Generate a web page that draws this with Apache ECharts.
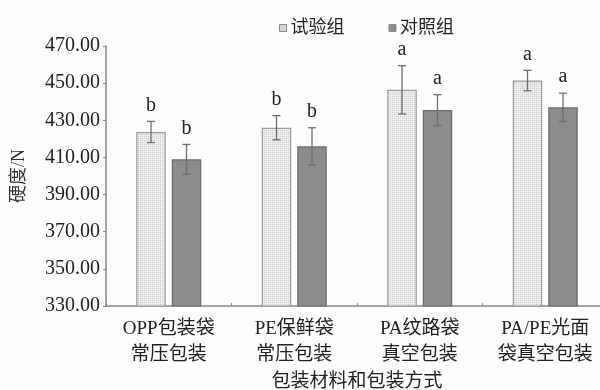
<!DOCTYPE html>
<html>
<head>
<meta charset="utf-8">
<script src="https://cdn.jsdelivr.net/npm/echarts@6/dist/echarts.min.js"></script>
<style>
  html, body { margin: 0; padding: 0; background: #fdfdfd; }
  #chart { width: 600px; height: 390px; }
</style>
</head>
<body>
<div id="chart"></div>
<script>
// Packaging material / method categories
const categories = ['OPP包装袋\n常压包装', 'PE保鲜袋\n常压包装', 'PA纹路袋\n真空包装', 'PA/PE光面\n袋真空包装'];
// Hardness (N), means and standard deviations
const trialMeans = [423.7, 426.0, 446.4, 451.4];
const trialErr = [5.7, 6.5, 13.0, 5.5];
const controlMeans = [409.0, 416.0, 435.5, 437.0];
const controlErr = [8.0, 10.0, 8.3, 7.6];
// Significance letters
const trialLetters = ['b', 'b', 'a', 'a'];
const controlLetters = ['b', 'b', 'a', 'a'];
const yTicks = { min: 330, max: 470, interval: 20 };

const FONT = "'Liberation Serif', 'Noto Sans CJK SC', serif";
const BAR_W = 29.5;
const BAR_GAP = 6;

// Fine dotted fill for the trial group bars
function dotPattern() {
  const c = document.createElement('canvas');
  c.width = 4; c.height = 4;
  const g = c.getContext('2d');
  g.fillStyle = '#ececec';
  g.fillRect(0, 0, 4, 4);
  g.fillStyle = '#c4c4c4';
  g.fillRect(0, 0, 1, 1);
  g.fillRect(2, 2, 1, 1);
  g.fillStyle = '#d6d6d6';
  g.fillRect(2, 0, 1, 1);
  g.fillRect(0, 2, 1, 1);
  return c;
}

function errorSeries(name, means, errs, letters, side) {
  const data = means.map((m, i) => [i, m, errs[i], letters[i]]);
  return {
    type: 'custom',
    name: name + '误差',
    data: data,
    z: 10,
    silent: true,
    renderItem: function (params, api) {
      const idx = api.value(0);
      const mean = api.value(1);
      const err = api.value(2);
      const off = side * (BAR_W + BAR_GAP) / 2;
      const top = api.coord([idx, mean + err]);
      const bot = api.coord([idx, mean - err]);
      const x = top[0] + off;
      const cap = 4;
      const style = { stroke: '#6e6e6e', lineWidth: 1.3 };
      return {
        type: 'group',
        children: [
          { type: 'line', shape: { x1: x, y1: top[1], x2: x, y2: bot[1] }, style: style },
          { type: 'line', shape: { x1: x - cap, y1: top[1], x2: x + cap, y2: top[1] }, style: style },
          { type: 'line', shape: { x1: x - cap, y1: bot[1], x2: x + cap, y2: bot[1] }, style: style },
          {
            type: 'text',
            style: {
              text: data[params.dataIndex][3],
              x: x, y: top[1] - 6,
              textAlign: 'center', textVerticalAlign: 'bottom',
              font: '20px ' + FONT, fill: '#222'
            }
          }
        ]
      };
    }
  };
}

const chart = echarts.init(document.getElementById('chart'), null, { renderer: 'canvas' });
chart.setOption({
  backgroundColor: '#fdfdfd',
  animation: false,
  textStyle: { fontFamily: FONT },
  legend: {
    top: 14,
    left: 274,
    itemWidth: 7,
    itemHeight: 7,
    itemGap: 44,
    textStyle: { fontSize: 18, color: '#222', fontFamily: FONT, padding: [0, 0, 0, -1] },
    data: [
      { name: '试验组', icon: 'rect', itemStyle: { color: '#d6d6d6', borderColor: '#8a8a8a', borderWidth: 1 } },
      { name: '对照组', icon: 'rect', itemStyle: { color: '#8a8a8a', borderColor: '#8a8a8a', borderWidth: 1 } }
    ]
  },
  grid: { left: 106, top: 46, width: 502, height: 260, containLabel: false, outerBoundsMode: 'none' },
  xAxis: {
    type: 'category',
    data: categories,
    name: '包装材料和包装方式',
    nameLocation: 'middle',
    nameGap: 66,
    nameTextStyle: { fontSize: 19, color: '#222', fontFamily: FONT },
    axisLine: { lineStyle: { color: '#888', width: 1.5 } },
    axisTick: { show: true, inside: true, length: 3, alignWithLabel: false, lineStyle: { color: '#888' } },
    axisLabel: { interval: 0, fontSize: 19, color: '#222', lineHeight: 26, margin: 10, fontFamily: FONT, hideOverlap: false }
  },
  yAxis: {
    type: 'value',
    min: yTicks.min,
    max: yTicks.max,
    interval: yTicks.interval,
    name: '硬度/N',
    nameLocation: 'middle',
    nameGap: 78,
    nameTextStyle: { fontSize: 18, color: '#333', fontFamily: FONT },
    splitLine: { show: false },
    axisLine: { show: true, lineStyle: { color: '#888', width: 1.5 } },
    axisTick: { show: true, length: 3, lineStyle: { color: '#888' } },
    axisLabel: {
      fontSize: 20, color: '#222', margin: 6, fontFamily: FONT,
      formatter: v => v.toFixed(2)
    }
  },
  series: [
    {
      name: '试验组',
      type: 'bar',
      data: trialMeans,
      barWidth: BAR_W,
      barGap: (BAR_GAP / BAR_W * 100) + '%',
      itemStyle: {
        color: { image: dotPattern(), repeat: 'repeat' },
        borderColor: '#9a9a9a',
        borderWidth: 1.2
      }
    },
    {
      name: '对照组',
      type: 'bar',
      data: controlMeans,
      barWidth: BAR_W,
      itemStyle: { color: '#8c8c8c', borderColor: '#6c6c6c', borderWidth: 1.2 }
    },
    errorSeries('试验组', trialMeans, trialErr, trialLetters, -1),
    errorSeries('对照组', controlMeans, controlErr, controlLetters, 1)
  ]
});
</script>
</body>
</html>
